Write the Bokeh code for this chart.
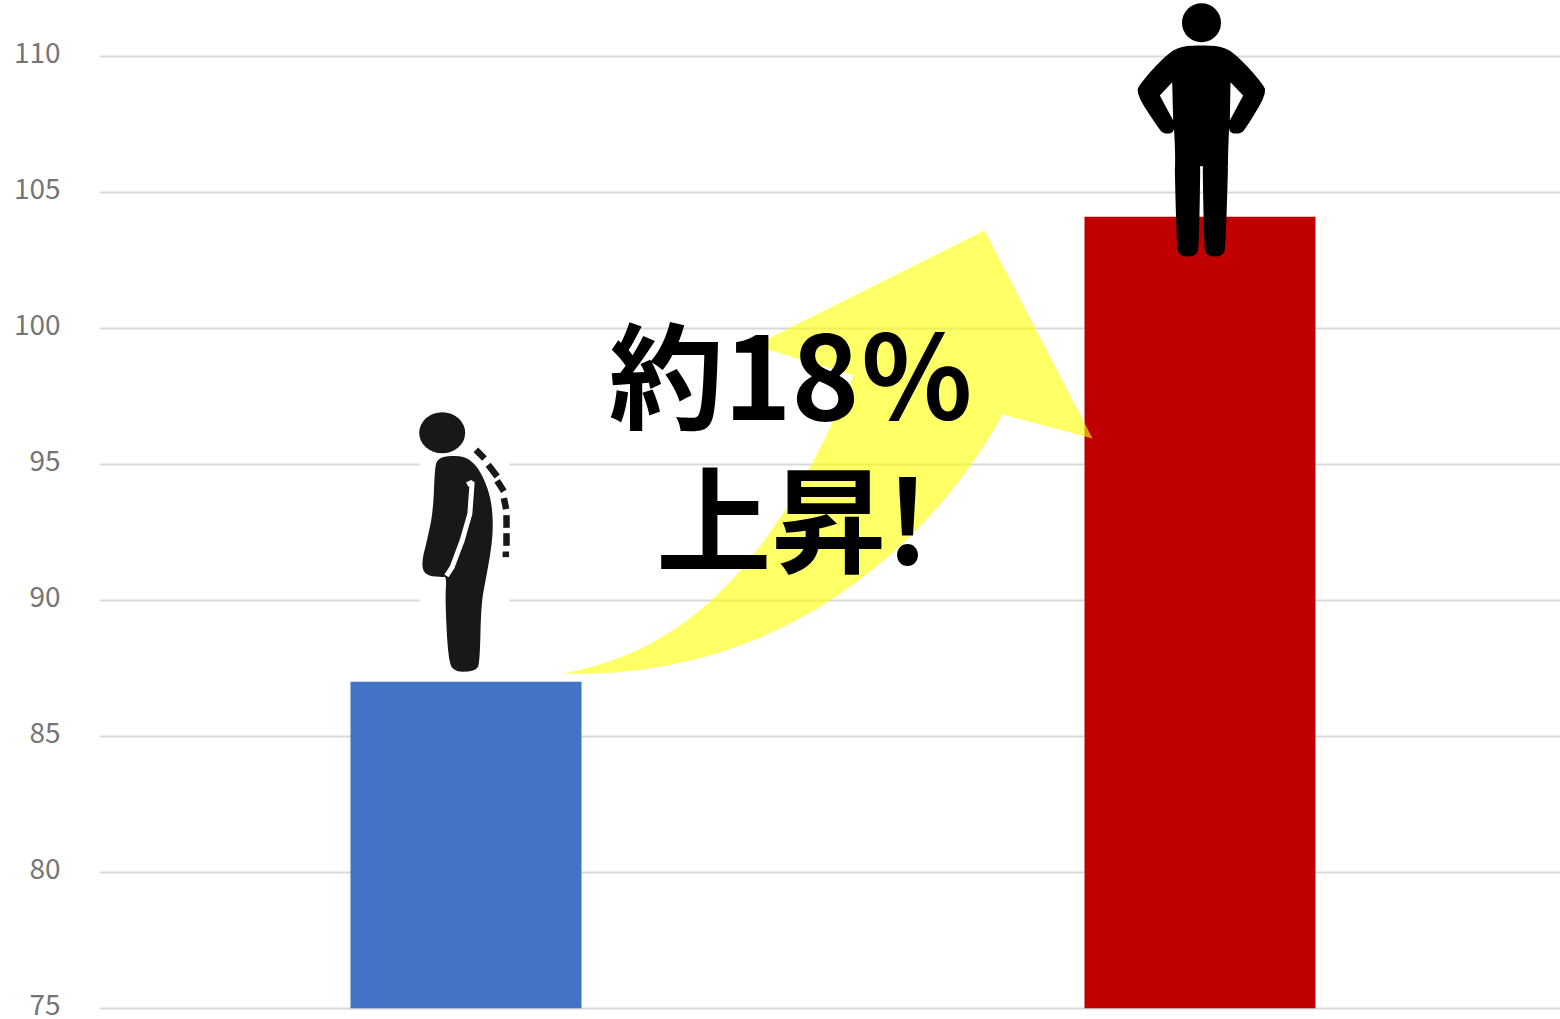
from bokeh.core.properties import value
from bokeh.embed import file_html
from bokeh.models import ColumnDataSource, FixedTicker, LinearAxis, Range1d
from bokeh.plotting import figure
from bokeh.resources import INLINE

# Bar data
positions = [0, 1]
heights = [87.0, 104.1]
bar_colors = ["#4472C4", "#C00000"]
y_ticks = [75, 80, 85, 90, 95, 100, 105, 110]

W, H = 1560, 1019
LEFT = 99
UNIT = 27.2      # pixels per y unit
CAT = 734        # pixels per category
BAR = 231
TOP_GRID = 55.7  # pixel row of the 110 gridline
LABEL_LIFT = 3.5 # tick labels sit this many pixels above their gridlines

y_start = 110 - (H - TOP_GRID) / UNIT
y_end = 110 + TOP_GRID / UNIT

p = figure(
    width=W, height=H, output_backend="svg", toolbar_location=None,
    x_range=Range1d((LEFT - 465.5) / CAT, (W - 465.5) / CAT),
    y_range=Range1d(y_start, y_end),
    x_axis_location=None, y_axis_location=None,
    min_border_left=LEFT, min_border_right=0, min_border_top=0, min_border_bottom=0,
    outline_line_color=None, background_fill_color="white", border_fill_color="white",
)
p.xgrid.visible = False
p.ygrid.grid_line_color = "#D9D9D9"
p.ygrid.grid_line_width = 2
p.ygrid.ticker = FixedTicker(ticks=y_ticks)

# The visible axis runs on a slightly offset range to lift its labels off the gridlines
p.extra_y_ranges["tick_labels"] = Range1d(y_start - LABEL_LIFT / UNIT, y_end - LABEL_LIFT / UNIT)
ax = LinearAxis(y_range_name="tick_labels", ticker=FixedTicker(ticks=y_ticks))
ax.axis_line_color = None
ax.major_tick_line_color = None
ax.minor_tick_line_color = None
ax.major_label_standoff = 33
ax.major_label_text_font = "Noto Sans CJK JP"
ax.major_label_text_font_size = "28px"
ax.major_label_text_color = "#757575"
ax.major_label_text_font_style = "normal"
p.add_layout(ax, "left")

src = ColumnDataSource(dict(x=positions, top=heights, color=bar_colors))
p.vbar(x="x", top="top", bottom=75, width=BAR / CAT, fill_color="color", line_color=None, source=src)

# Overlay artwork is laid out on a screen-like coordinate system
p.extra_x_ranges["art"] = Range1d(LEFT, W)
p.extra_y_ranges["art"] = Range1d(H, 0)
ART = dict(x_range_name="art", y_range_name="art")


def bezier(a, b, c, d, n=24):
    pts = []
    for i in range(n + 1):
        t = i / n
        u = 1 - t
        pts.append((
            u**3 * a[0] + 3 * u * u * t * b[0] + 3 * u * t * t * c[0] + t**3 * d[0],
            u**3 * a[1] + 3 * u * u * t * b[1] + 3 * u * t * t * c[1] + t**3 * d[1],
        ))
    return pts


def smooth(pts, rounds=2):
    # Chaikin corner cutting, used to round the figures' outlines
    for _ in range(rounds):
        out = []
        for i, a in enumerate(pts):
            b = pts[(i + 1) % len(pts)]
            out.append((0.75 * a[0] + 0.25 * b[0], 0.75 * a[1] + 0.25 * b[1]))
            out.append((0.25 * a[0] + 0.75 * b[0], 0.25 * a[1] + 0.75 * b[1]))
        pts = out
    return pts


def patch(points, color, **kw):
    p.patch([q[0] for q in points], [q[1] for q in points], fill_color=color,
            line_color=kw.pop("line_color", None), **ART, **kw)


# Rising arrow
arrow = (
    [(984, 230), (1092, 438), (1002, 414)]
    + bezier((1002, 414), (930, 545), (780, 680), (562, 673))
    + bezier((562, 673), (690, 650), (775, 560), (853, 375))
    + [(754, 345)]
)
patch(arrow, "#FFFF00", fill_alpha=0.6)

# Hunched figure on a white backing
patch([(419, 410), (509, 410), (509, 672), (419, 672)], "#FFFFFF")
INK = "#181818"
p.ellipse([441.7], [432.3], width=46, height=41, fill_color=INK, line_color=None, **ART)


def z1(pts):
    return [(400 + a / 3, 400 + b / 3) for a, b in pts]


hunched = z1([
    (145, 165), (195, 168), (230, 198), (255, 245), (272, 300), (278, 370), (273, 440),
    (257, 530), (242, 610), (238, 775), (230, 812), (160, 815), (143, 775),
    (134, 600), (138, 528), (125, 530), (75, 525), (62, 490), (82, 410), (98, 330),
    (103, 200), (112, 175),
])
patch(smooth(hunched), INK)

crease = z1([(200, 252), (215, 245), (208, 340), (185, 420), (155, 500), (138, 526)])
p.line([q[0] for q in crease], [q[1] for q in crease], line_color="#FFFFFF", line_width=5, **ART)

spine = [
    [(226, 148), (252, 174)], [(263, 193), (290, 228)], [(290, 241), (310, 272)],
    [(310, 293), (317, 326)], [(318, 344), (318, 382)], [(318, 398), (318, 436)],
    [(316, 453), (316, 470)],
]
spine_px = [z1(s) for s in spine]
p.multi_line([[q[0] for q in s] for s in spine_px], [[q[1] for q in s] for s in spine_px],
             line_color=INK, line_width=6.5, **ART)

# Upright figure, hands on hips
p.ellipse([1201], [22.3], width=39, height=39, fill_color="#000000", line_color=None, **ART)


def z2(pts):
    return [(1120 + a / 3, b / 3) for a, b in pts]


upper = z2([
    (243, 134), (175, 138), (130, 170), (62, 245), (45, 278), (115, 385), (130, 400),
    (158, 398), (162, 375), (165, 480), (321, 480), (325, 375), (328, 398), (360, 400),
    (375, 385), (440, 278), (423, 245), (355, 170), (310, 138),
])
patch(smooth(upper), "#000000")
left_leg = z2([(160, 380), (168, 722), (174, 768), (230, 768), (236, 722), (241, 380)])
right_leg = z2([(245, 380), (250, 722), (256, 768), (310, 768), (316, 722), (326, 380)])
patch(smooth(left_leg), "#000000")
patch(smooth(right_leg), "#000000")
patch(z2([(161, 375), (325, 375), (322, 497), (165, 497)]), "#000000")
patch(z2([(155, 245), (118, 285), (158, 360)]), "#FFFFFF")
patch(z2([(330, 245), (368, 285), (328, 360)]), "#FFFFFF")

# Callout
callout_lines = ["約18％", "上昇!"]
p.text([791, 792], [369, 513], text=callout_lines, text_align="center", text_baseline="middle",
       text_font=value("Noto Sans CJK JP"), text_font_style="bold", text_font_size="115px",
       text_color="#000000", **ART)

open("out.html", "w").write(file_html(p, INLINE))
